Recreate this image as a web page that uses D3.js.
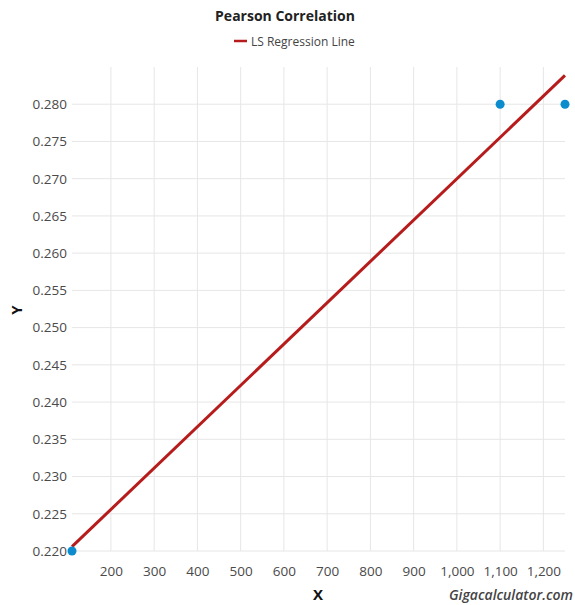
<!DOCTYPE html>
<html><head><meta charset="utf-8">
<script src="https://cdn.jsdelivr.net/npm/d3@7"></script>
<style>body{margin:0;background:#fff;font-family:"Open Sans",sans-serif;}</style>
</head><body><svg id="c" width="575" height="605"></svg>
<script>
const xValues = [110, 1100, 1250];
const yValues = [0.22, 0.28, 0.28];
const xTicks = [200, 300, 400, 500, 600, 700, 800, 900, 1000, 1100, 1200];
const yTicks = [0.220, 0.225, 0.230, 0.235, 0.240, 0.245, 0.250, 0.255, 0.260, 0.265, 0.270, 0.275, 0.280];
const yDomain = [0.22, 0.285];

const svg = d3.select("#c");
const m = {l:72, r:10, t:67, b:54};
const W = 575, H = 605;
const x = d3.scaleLinear().domain(d3.extent(xValues)).range([m.l, W - m.r]);
const y = d3.scaleLinear().domain(yDomain).range([H - m.b, m.t]);

// grid
svg.append("g").selectAll("line").data(xTicks).join("line")
  .attr("x1", d=>x(d)).attr("x2", d=>x(d)).attr("y1", y(yDomain[0])).attr("y2", y(yDomain[1]))
  .attr("stroke", "#e6e6e6").attr("stroke-width", 1);
svg.append("g").selectAll("line").data(yTicks).join("line")
  .attr("x1", x.range()[0]).attr("x2", x.range()[1]).attr("y1", d=>y(d)).attr("y2", d=>y(d))
  .attr("stroke", "#e6e6e6").attr("stroke-width", 1);

// axes
const fmtX = d3.format(",");
const xa = svg.append("g").attr("transform", `translate(0,${y(yDomain[0])})`)
  .call(d3.axisBottom(x).tickValues(xTicks).tickFormat(fmtX).tickSize(0).tickPadding(15));
const ya = svg.append("g").attr("transform", `translate(${x.range()[0]},0)`)
  .call(d3.axisLeft(y).tickValues(yTicks).tickFormat(d3.format(".3f")).tickSize(0).tickPadding(5));
[xa, ya].forEach(a => {
  a.select(".domain").remove();
  a.selectAll("text").attr("fill", "#4a4a4a").style("font-size", "13.5px").style("font-family", "Open Sans, sans-serif");
});

// regression
const mx = d3.mean(xValues), my = d3.mean(yValues);
const slope = d3.sum(xValues, (v,i)=>(v-mx)*(yValues[i]-my)) / d3.sum(xValues, v=>(v-mx)*(v-mx));
const icpt = my - slope*mx;
const ext = d3.extent(xValues);
svg.append("line")
  .attr("x1", x(ext[0])).attr("y1", y(icpt + slope*ext[0]))
  .attr("x2", x(ext[1])).attr("y2", y(icpt + slope*ext[1]))
  .attr("stroke", "#b71c1c").attr("stroke-width", 3);

// points
svg.append("g").selectAll("circle").data(xValues).join("circle")
  .attr("cx", d=>x(d)).attr("cy", (d,i)=>y(yValues[i])).attr("r", 4.5).attr("fill", "#0c8ccd");

// title & legend
svg.append("text").attr("x", 285).attr("y", 21).attr("text-anchor", "middle")
  .style("font-size", "14px").style("font-weight", "bold").attr("fill", "#222").text("Pearson Correlation");
svg.append("line").attr("x1", 234).attr("x2", 247).attr("y1", 41).attr("y2", 41)
  .attr("stroke", "#b71c1c").attr("stroke-width", 2.5);
svg.append("text").attr("x", 251).attr("y", 45.5)
  .style("font-size", "12px").attr("fill", "#444").text("LS Regression Line");

// axis titles
svg.append("text").attr("x", 318).attr("y", 600).attr("text-anchor", "middle")
  .style("font-size", "15px").style("font-weight", "bold").attr("fill", "#111").text("X");
svg.append("text").attr("transform", "translate(22,310) rotate(-90)").attr("text-anchor", "middle")
  .style("font-size", "15px").style("font-weight", "bold").attr("fill", "#111").text("Y");
svg.append("text").attr("x", 573).attr("y", 600).attr("text-anchor", "end")
  .style("font-size", "14px").style("font-style", "italic").style("font-weight", "600").attr("fill", "#444").text("Gigacalculator.com");
</script></body></html>
